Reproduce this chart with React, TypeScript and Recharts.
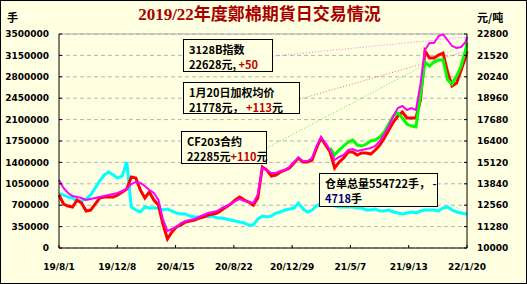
import React from "react";
import { LineChart, Line, XAxis, YAxis, CartesianGrid, ReferenceLine } from "recharts";

// day offsets from 2019-08-01 (one sample every ~10 days)
const days = [
  0, 10, 20, 30, 40, 50, 60, 70, 80, 90, 100, 110, 120, 130, 140, 150, 160, 170, 180, 190,
  200, 210, 220, 230, 240, 250, 260, 270, 280, 290, 300, 310, 320, 330, 340, 350, 360, 370, 380, 390,
  400, 410, 420, 430, 440, 450, 460, 470, 480, 490, 500, 510, 520, 530, 540, 550, 560, 570, 580, 590,
  600, 610, 620, 630, 640, 650, 660, 670, 680, 690, 700, 710, 720, 730, 740, 750, 760, 770, 780, 790,
  800, 810, 820, 830, 840, 850, 860, 870, 880, 890, 900, 903,
];

const xTickDays = [0, 129, 258, 387, 516, 645, 774, 903];
const xTickLabels = ["19/8/1", "19/12/8", "20/4/15", "20/8/22", "20/12/29", "21/5/7", "21/9/13", "22/1/20"];
const lotTicks = [0, 350000, 700000, 1050000, 1400000, 1750000, 2100000, 2450000, 2800000, 3150000, 3500000];
const priceTicks = [10000, 11280, 12560, 13840, 15120, 16400, 17680, 18960, 20240, 21520, 22800];

// 加权均价 (red)
const avgPrice = [
  13170, 12630, 12510, 12450, 12870, 12690, 12210, 12270, 12630, 12990, 13050, 13050, 13050, 13170, 13350, 13530, 14250, 14190, 13470, 12990,
  13350, 12870, 12570, 11435, 10540, 10960, 11260, 11380, 11550, 11610, 11670, 11790, 11850, 11970, 12030, 12090, 12270, 12450, 12630, 12870,
  13050, 12870, 12750, 12570, 12990, 14845, 14665, 14306, 14366, 14546, 14665, 14785, 15084, 15383, 15144, 15144, 15263, 15981, 16579, 16160,
  15742, 14785, 15144, 15383, 15742, 15742, 15562, 15682, 15682, 15622, 15861, 16160, 16579, 17058, 17536, 17895, 18134, 17775, 17775, 17775,
  18852, 21783, 21364, 21364, 21543, 21663, 20527, 19689, 19869, 20646, 21424, 21778,
];

// 3128B指数 (magenta)
const index3128B = [
  14067, 13589, 13290, 13110, 13050, 12990, 12870, 12931, 12990, 13050, 13110, 13170, 13230, 13290, 13409, 13530, 13828, 13947, 13888, 13708,
  13470, 13290, 12870, 11734, 11017, 11136, 11256, 11495, 11615, 11675, 11734, 11854, 11974, 12093, 12153, 12213, 12392, 12512, 12632, 12811,
  12931, 12811, 12751, 12691, 13200, 14785, 14665, 14486, 14486, 14605, 14665, 14845, 15144, 15383, 15203, 15203, 15383, 16101, 16639, 16280,
  15861, 15263, 15443, 15562, 15861, 15921, 15802, 15861, 15921, 15981, 16101, 16400, 16818, 17297, 17895, 18373, 18493, 18254, 18373, 18254,
  19809, 21842, 22261, 22261, 22680, 22780, 22440, 22082, 21962, 22022, 22321, 22628,
];

// CF203合约 (green)
const cf203 = [
  null, null, null, null, null, null, null, null, null, null, null, null, null, null, null, null, null, null, null, null,
  null, null, null, null, null, null, null, null, null, null, null, null, null, null, null, null, null, null, null, null,
  null, null, null, null, null, null, null, null, null, null, null, null, null, null, null, null, null, null, null, null,
  15981, 15562, 15861, 16101, 16340, 16459, 16160, 16101, 16220, 16400, 16459, 16639, 16938, 17416, 17895, 18074, 17775, 17416, 17297, 17237,
  19151, 21125, 20885, 21125, 21244, 21244, 20048, 19809, 20287, 20885, 21842, 22285,
];

// 仓单总量 (cyan, left axis)
const receipts = [
  883000, 867000, 834000, 818000, 769000, 769000, 801000, 867000, 981000, 1096000, 1194000, 1243000, 1194000, 1145000, 1178000, 1407000, 671000, 621000, 589000, 671000,
  654000, 654000, 654000, 621000, 638000, 605000, 572000, 556000, 556000, 523000, 507000, 507000, 523000, 507000, 523000, 491000, 491000, 474000, 458000, 442000,
  425000, 409000, 376000, 376000, 474000, 523000, 507000, 523000, 572000, 589000, 621000, 638000, 654000, 736000, 638000, 589000, 621000, 687000, 736000, 720000,
  703000, 687000, 671000, 671000, 671000, 671000, 654000, 654000, 621000, 621000, 638000, 605000, 605000, 621000, 589000, 572000, 556000, 572000, 589000, 572000,
  605000, 621000, 621000, 621000, 605000, 654000, 671000, 621000, 589000, 572000, 556000, 554722,
];

const BG = "#FFFFE1";
const last = (a: (number | null)[]) => a[a.length - 1] as number;

const data = days.map((d, i) => ({
  d,
  avg: avgPrice[i],
  idx: index3128B[i],
  cf: cf203[i],
  rc: receipts[i],
}));

const tickStyle = { fontFamily: "'DejaVu Sans', sans-serif", fontSize: 9, fontWeight: 700, fill: "#000" };

function Callout({ left, top, width, height, children }: any) {
  return (
    <div
      style={{
        position: "absolute",
        left,
        top,
        width,
        height,
        boxSizing: "border-box",
        border: "1px solid #000",
        background: BG,
        padding: "2px 0 0 5px",
        font: "700 11px/15px 'Noto Sans CJK SC', sans-serif",
        whiteSpace: "nowrap",
        color: "#000",
      }}
    >
      {children}
    </div>
  );
}

const red = { color: "#C00000" };
const navy = { color: "#000080" };

export default function App() {
  return (
    <div
      style={{
        position: "absolute",
        left: 0,
        top: 0,
        width: 527,
        height: 284,
        background: BG,
        boxShadow: "inset 0 0 0 1px #000",
        overflow: "hidden",
      }}
    >
      <LineChart width={527} height={284} data={data} margin={{ top: 34, right: 0, bottom: 0, left: 0 }}>
        <CartesianGrid yAxisId="left" vertical={false} stroke="#B4B4B4" strokeDasharray="4 3" />
        <XAxis
          dataKey="d"
          type="number"
          domain={[0, 903]}
          ticks={xTickDays}
          interval={0}
          tickFormatter={(v) => xTickLabels[xTickDays.indexOf(v)]}
          height={36}
          stroke="#000"
          tickSize={-3}
          tickMargin={19}
          tick={tickStyle}
        />
        <YAxis
          yAxisId="left"
          domain={[0, 3500000]}
          ticks={lotTicks}
          interval={0}
          width={59}
          stroke="#000"
          tickSize={-3}
          tickMargin={13}
          tick={tickStyle}
          tickFormatter={(v) => String(v)}
        />
        <YAxis
          yAxisId="right"
          orientation="right"
          domain={[10000, 22800]}
          ticks={priceTicks}
          interval={0}
          width={60}
          stroke="#000"
          tickSize={-3}
          tickMargin={13}
          tick={{ ...tickStyle, textAnchor: "start" }}
        />
        <ReferenceLine yAxisId="left" y={3500000} stroke="#A8A8A8" />
        <ReferenceLine
          yAxisId="right"
          segment={[{ x: 474, y: 21480 }, { x: 903, y: last(index3128B) }]}
          stroke="#F080F0"
          strokeDasharray="1 2"
        />
        <ReferenceLine
          yAxisId="right"
          segment={[{ x: 533, y: 18910 }, { x: 903, y: last(avgPrice) }]}
          stroke="#E07070"
          strokeDasharray="1 2"
        />
        <ReferenceLine
          yAxisId="right"
          segment={[{ x: 460, y: 15980 }, { x: 903, y: last(cf203) }]}
          stroke="#60E060"
          strokeDasharray="1 2"
        />
        <ReferenceLine
          yAxisId="left"
          segment={[{ x: 839, y: 850000 }, { x: 903, y: last(receipts) }]}
          stroke="#70E8E8"
          strokeDasharray="1 2"
        />
        <Line yAxisId="left" dataKey="rc" stroke="#00FFFF" strokeWidth={3} dot={false} isAnimationActive={false} />
        <Line yAxisId="right" dataKey="avg" stroke="#FF0000" strokeWidth={3} dot={false} isAnimationActive={false} />
        <Line yAxisId="right" dataKey="cf" stroke="#00FF00" strokeWidth={3} dot={false} isAnimationActive={false} />
        <Line yAxisId="right" dataKey="idx" stroke="#FF00FF" strokeWidth={2} dot={false} isAnimationActive={false} />
      </LineChart>

      <div
        style={{
          position: "absolute",
          left: 0,
          width: 527,
          top: 5,
          textAlign: "center",
          font: "700 17px/20px 'Liberation Serif', 'Noto Sans CJK SC', serif",
          color: "#A80000",
          marginLeft: -4,
        }}
      >
        2019/22年度鄭棉期貨日交易情況
      </div>
      <div style={{ position: "absolute", left: 7, top: 10, font: "700 11px/14px 'Noto Sans CJK SC', sans-serif" }}>手</div>
      <div style={{ position: "absolute", left: 477, top: 10, font: "700 11px/14px 'Noto Sans CJK SC', sans-serif" }}>元/吨</div>

      <Callout left={183} top={39} width={90} height={33}>
        3128B指数
        <br />
        22628元, <span style={red}>+50</span>
      </Callout>
      <Callout left={183} top={82} width={117} height={32}>
        1月20日加权均价
        <br />
        21778元， <span style={red}>+113</span>元
      </Callout>
      <Callout left={181} top={131} width={86} height={33}>
        CF203合约
        <br />
        22285元<span style={red}>+110</span>元
      </Callout>
      <Callout left={319} top={173} width={119} height={34}>
        仓单总量554722手， <span style={navy}>-</span>
        <br />
        <span style={navy}>4718</span>手
      </Callout>
    </div>
  );
}
